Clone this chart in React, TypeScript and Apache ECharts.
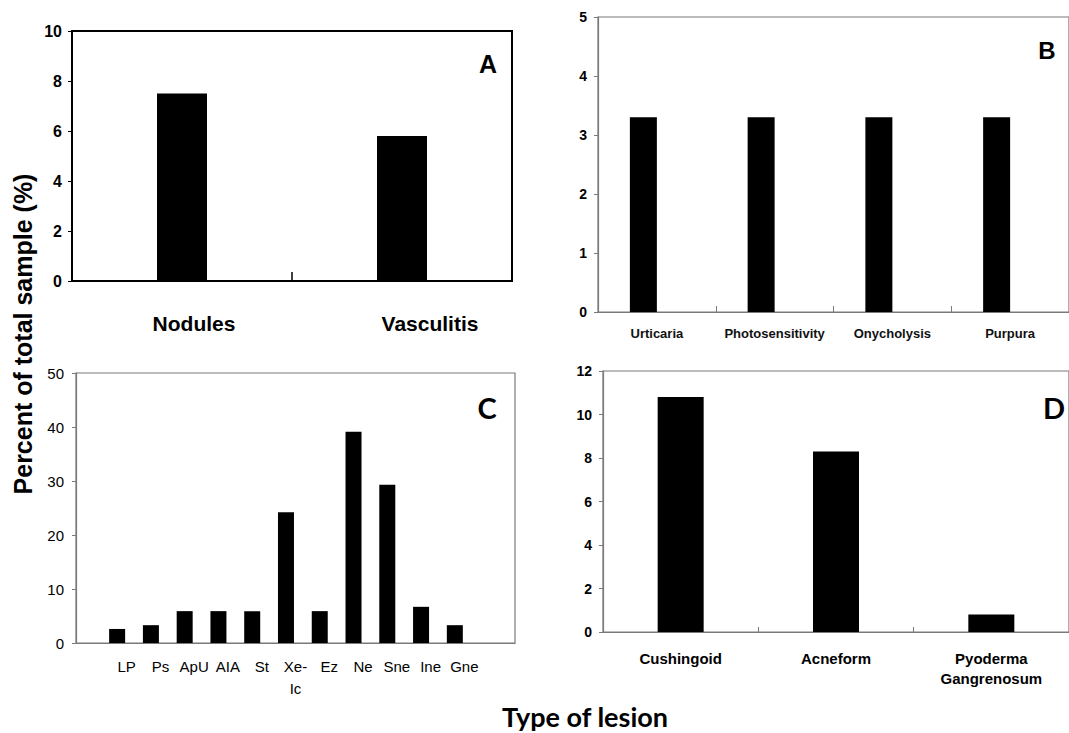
import React, { useEffect, useRef } from "react";
import * as echarts from "echarts";

const aCats = ["Nodules", "Vasculitis"];
const aVals = [7.5, 5.8];
const bCats = ["Urticaria", "Photosensitivity", "Onycholysis", "Purpura"];
const bVals = [3.3, 3.3, 3.3, 3.3];
const cCats = ["LP", "Ps", "ApU", "AIA", "St", "Xe-\nIc", "Ez", "Ne", "Sne", "Ine", "Gne"];
const cVals = [2.6, 3.3, 5.9, 5.9, 5.9, 24.2, 5.9, 39.1, 29.3, 6.7, 3.3];
const dCats = ["Cushingoid", "Acneform", "Pyoderma\nGangrenosum"];
const dVals = [10.8, 8.3, 0.8];

const ARIAL = "'Liberation Sans', Arial, sans-serif";
const CAL = "Lato, 'Open Sans', sans-serif";
const GRAY = "#7a7a7a";

export default function App() {
  const ref = useRef<HTMLDivElement>(null);
  useEffect(() => {
    if (!ref.current) return;
    const chart = echarts.init(ref.current, undefined, { renderer: "svg" });
    const cCatsPad = ["", ...cCats, ""];
    const cValsPad: any[] = ["-", ...cVals, "-"];
    const empty = (n: number) => new Array(n).fill("-");

    const yAxisBase = (gi: number, max: number, interval: number, color: string, lw: number, fs: number, fw: any, margin: number) => ({
      type: "value",
      gridIndex: gi,
      min: 0,
      max,
      interval,
      splitLine: { show: false },
      axisLine: { show: true, lineStyle: { color, width: lw } },
      axisTick: { show: true, length: 4, lineStyle: { color } },
      axisLabel: { color: "#000", fontSize: fs, fontWeight: fw, fontFamily: ARIAL, margin },
    });

    const option: any = {
      animation: false,
      backgroundColor: "#fff",
      grid: [
        { left: 72, top: 31, width: 440, height: 250, show: true, borderColor: "#000", borderWidth: 2, backgroundColor: "transparent" },
        { left: 598, top: 17, width: 476, height: 295, show: true, borderColor: GRAY, borderWidth: 1.2, backgroundColor: "transparent" },
        { left: 76, top: 373, width: 439, height: 270, show: true, borderColor: GRAY, borderWidth: 1.2, backgroundColor: "transparent" },
        { left: 603, top: 371, width: 479, height: 261, show: true, borderColor: GRAY, borderWidth: 1.2, backgroundColor: "transparent" },
      ],
      xAxis: [
        {
          type: "category",
          gridIndex: 0,
          data: aCats,
          axisLine: { lineStyle: { color: "#000", width: 2 } },
          axisTick: { show: true, inside: true, length: 9, lineStyle: { color: "#000", width: 1.5 } },
          axisLabel: {
            margin: 32,
            interval: 0,
            formatter: (v: string, i: number) => `{a${i}|${v}}`,
            rich: {
              a0: { fontSize: 21, fontWeight: "bold", fontFamily: ARIAL, color: "#000", padding: [0, 0, 0, 24] },
              a1: { fontSize: 21, fontWeight: "bold", fontFamily: ARIAL, color: "#000", padding: [0, 0, 0, 56] },
            },
          },
        },
        {
          type: "category",
          gridIndex: 1,
          data: bCats,
          axisLine: { lineStyle: { color: GRAY, width: 1.2 } },
          axisTick: { show: true, inside: true, length: 6, lineStyle: { color: GRAY } },
          axisLabel: { margin: 15, interval: 0, hideOverlap: false, fontSize: 13, fontWeight: "bold", fontFamily: ARIAL, color: "#111" },
        },
        {
          type: "category",
          gridIndex: 2,
          data: cCatsPad,
          axisLine: { lineStyle: { color: GRAY, width: 1.2 } },
          axisTick: { show: false },
          axisLabel: { margin: 12, fontSize: 15, fontFamily: ARIAL, color: "#000", lineHeight: 22, interval: 0 },
        },
        {
          type: "category",
          gridIndex: 3,
          data: dCats,
          axisLine: { lineStyle: { color: GRAY, width: 1.2 } },
          axisTick: { show: true, inside: true, length: 5, lineStyle: { color: GRAY } },
          axisLabel: { margin: 16, interval: 0, fontSize: 15, fontWeight: "bold", fontFamily: ARIAL, color: "#000", lineHeight: 20 },
        },
      ],
      yAxis: [
        yAxisBase(0, 10, 2, "#000", 2, 16, "bold", 10),
        yAxisBase(1, 5, 1, GRAY, 1.2, 14, "bold", 11),
        yAxisBase(2, 50, 10, GRAY, 1.2, 15, "normal", 12),
        yAxisBase(3, 12, 2, GRAY, 1.2, 14, "bold", 11),
      ],
      series: [
        { type: "bar", xAxisIndex: 0, yAxisIndex: 0, data: aVals, barWidth: 50, itemStyle: { color: "#000" } },
        { type: "bar", xAxisIndex: 1, yAxisIndex: 1, data: bVals, barWidth: 27, barGap: "0%", itemStyle: { color: "#000" } },
        { type: "bar", xAxisIndex: 1, yAxisIndex: 1, data: empty(bCats.length), barWidth: 27, barGap: "0%", itemStyle: { color: "#000" } },
        { type: "bar", xAxisIndex: 2, yAxisIndex: 2, data: cValsPad, barWidth: 16, barGap: "19%", itemStyle: { color: "#000" } },
        { type: "bar", xAxisIndex: 2, yAxisIndex: 2, data: empty(cCatsPad.length), barWidth: 16, barGap: "19%", itemStyle: { color: "#000" } },
        { type: "bar", xAxisIndex: 3, yAxisIndex: 3, data: dVals, barWidth: 46, itemStyle: { color: "#000" } },
      ],
      graphic: [
        { type: "text", x: 488, y: 64, style: { text: "A", fontSize: 25, fontWeight: "bold", fontFamily: ARIAL, fill: "#000", textAlign: "center", textVerticalAlign: "middle", align: "center", verticalAlign: "middle" } },
        { type: "text", x: 1047, y: 50, style: { text: "B", fontSize: 24, fontWeight: "bold", fontFamily: ARIAL, fill: "#000", textAlign: "center", textVerticalAlign: "middle", align: "center", verticalAlign: "middle" } },
        { type: "text", x: 487, y: 407, style: { text: "C", fontSize: 29, fontWeight: "bold", fontFamily: CAL, fill: "#000", textAlign: "center", textVerticalAlign: "middle", align: "center", verticalAlign: "middle" } },
        { type: "text", x: 1054, y: 407, style: { text: "D", fontSize: 29, fontWeight: "bold", fontFamily: CAL, fill: "#000", textAlign: "center", textVerticalAlign: "middle", align: "center", verticalAlign: "middle" } },
        { type: "text", x: 23, y: 334, rotation: Math.PI / 2, style: { text: "Percent of total sample (%)", fontSize: 25, fontWeight: "bold", fontFamily: ARIAL, fill: "#000", textAlign: "center", textVerticalAlign: "middle", align: "center", verticalAlign: "middle" } },
        { type: "text", x: 585, y: 716, style: { text: "Type of lesion", fontSize: 27, fontWeight: "bold", fontFamily: CAL, fill: "#000", textAlign: "center", textVerticalAlign: "middle", align: "center", verticalAlign: "middle" } },
      ],
    };
    chart.setOption(option);
    return () => chart.dispose();
  }, []);
  return <div ref={ref} style={{ position: "fixed", left: 0, top: 0, width: 1069, height: 733, background: "#fff" }} />;
}
